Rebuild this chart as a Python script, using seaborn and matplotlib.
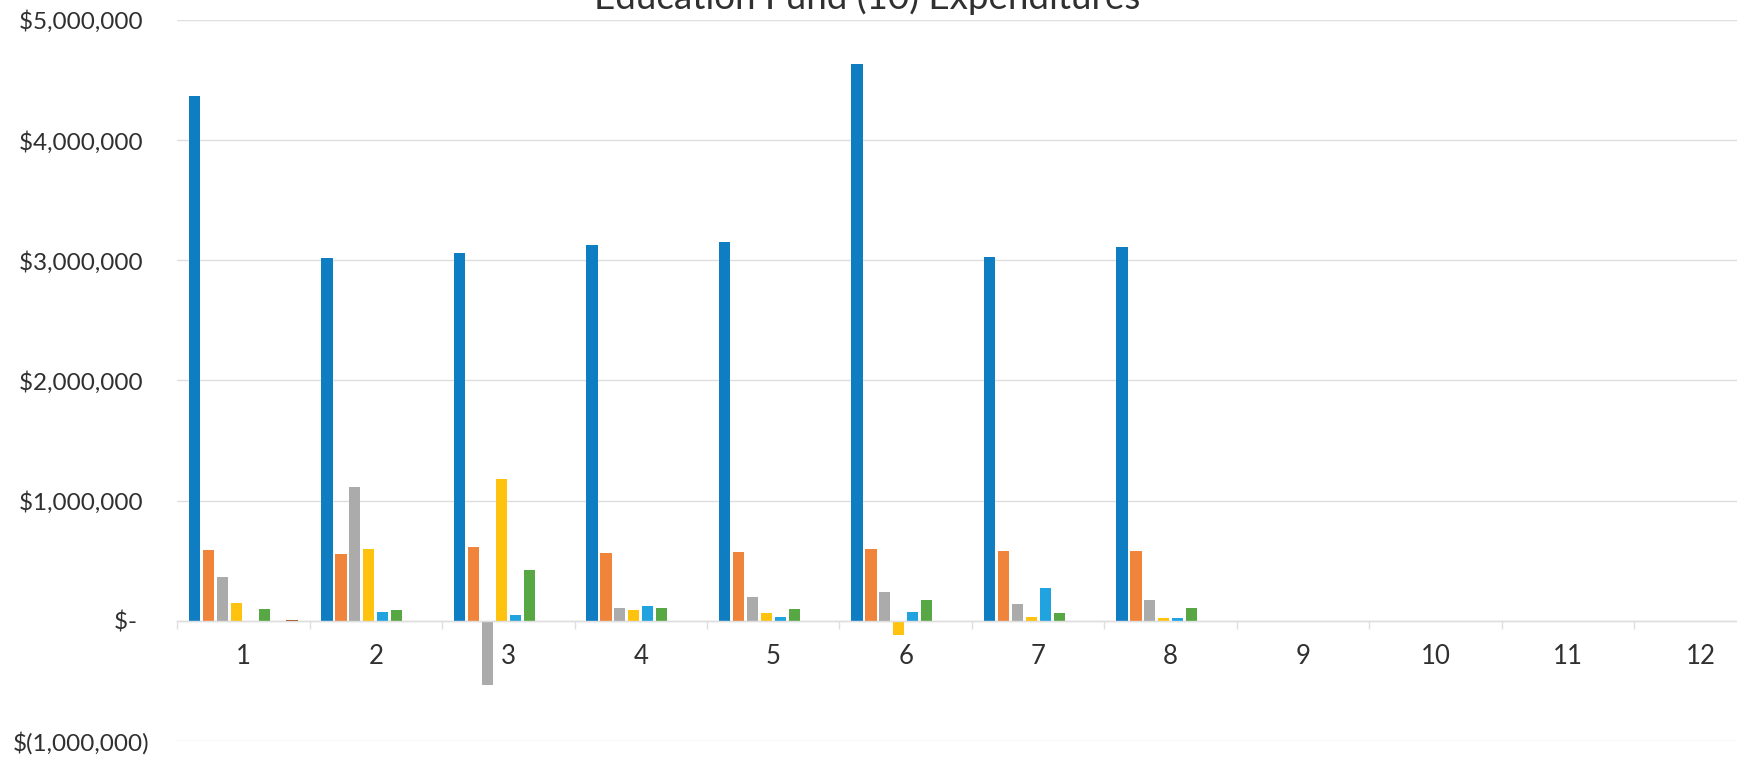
import matplotlib
matplotlib.use('Agg')
import matplotlib.pyplot as plt
import matplotlib.ticker as mticker
import numpy as np
import pandas as pd
import seaborn as sns

# months 1..12, only 1..8 reported so far
months = [str(m) for m in range(1, 13)]
series = ['S1', 'S2', 'S3', 'S4', 'S5', 'S6', 'S7', 'S8']

nan = np.nan
s1 = [4370000, 3020000, 3060000, 3130000, 3150000, 4630000, 3030000, 3110000, nan, nan, nan, nan]
s2 = [590000, 553000, 613000, 565000, 570000, 600000, 580000, 580000, nan, nan, nan, nan]
s3 = [364000, 1111000, -530000, 108000, 202000, 243000, 140000, 173000, nan, nan, nan, nan]
s4 = [148000, 598000, 1178000, 88000, 63000, -120000, 36000, 20000, nan, nan, nan, nan]
s5 = [nan, 75000, 47000, 127000, 33000, 77000, 273000, 22000, nan, nan, nan, nan]
s6 = [98000, 91000, 420000, 110000, 100000, 175000, 64000, 110000, nan, nan, nan, nan]
s7 = [nan] * 12
s8 = [10000, nan, nan, nan, nan, nan, nan, nan, nan, nan, nan, nan]

colors = ['#0f7dc2', '#f0843a', '#ababab', '#ffc30f', '#21a3e0', '#57a845', '#264478', '#9e4a12']

yticks = [-1000000, 0, 1000000, 2000000, 3000000, 4000000, 5000000]

values = [s1, s2, s3, s4, s5, s6, s7, s8]
df = pd.DataFrame({
    'month': np.repeat([months], len(series), axis=0).ravel(),
    'series': np.repeat(series, len(months)),
    'value': np.concatenate(values),
})

sns.set_style('white')
plt.rcParams['font.family'] = ['Lato', 'DejaVu Sans']
text_color = '#303030'
grid_color = '#dedede'

fig = plt.figure(figsize=(17.37, 7.59), dpi=100)
ax = fig.add_axes([177 / 1737, 18 / 759, 12 * 132.5 / 1737, 721 / 759])

sns.barplot(data=df, x='month', y='value', hue='series', order=months,
            hue_order=series, palette=colors, width=0.84, gap=0.2,
            linewidth=0, saturation=1, legend=False, ax=ax)

ax.set_xlim(-0.5, 11.5)
ax.set_ylim(yticks[0], yticks[-1])
ax.set_yticks(yticks)


def money(v, pos):
    if v == 0:
        return '$-  '
    if v < 0:
        return '$({:,.0f})'.format(-v)
    return '${:,.0f} '.format(v)


ax.yaxis.set_major_formatter(mticker.FuncFormatter(money))
ax.grid(axis='y', color=grid_color, linewidth=1)
ax.set_axisbelow(True)
for side in ['left', 'right', 'top']:
    ax.spines[side].set_visible(False)
ax.spines['bottom'].set_position(('data', 0))
ax.spines['bottom'].set_color(grid_color)
ax.spines['bottom'].set_linewidth(1)

ax.set_xticks(np.arange(12.5) - 0.5, minor=True)
ax.tick_params(axis='x', which='major', length=0, pad=17, labelsize=18.5,
               labelcolor=text_color)
ax.tick_params(axis='x', which='minor', length=6, width=1, color=grid_color,
               direction='out', bottom=True)
ax.tick_params(axis='y', length=0, pad=20, labelsize=17.5, labelcolor=text_color)
ax.set_xlabel('')
ax.set_ylabel('')

fig.text(0.499, 1 - 9 / 759, 'Education Fund (10) Expenditures',
         ha='center', va='baseline', fontsize=26.5, color=text_color)

fig.savefig('out.png', dpi=100)
